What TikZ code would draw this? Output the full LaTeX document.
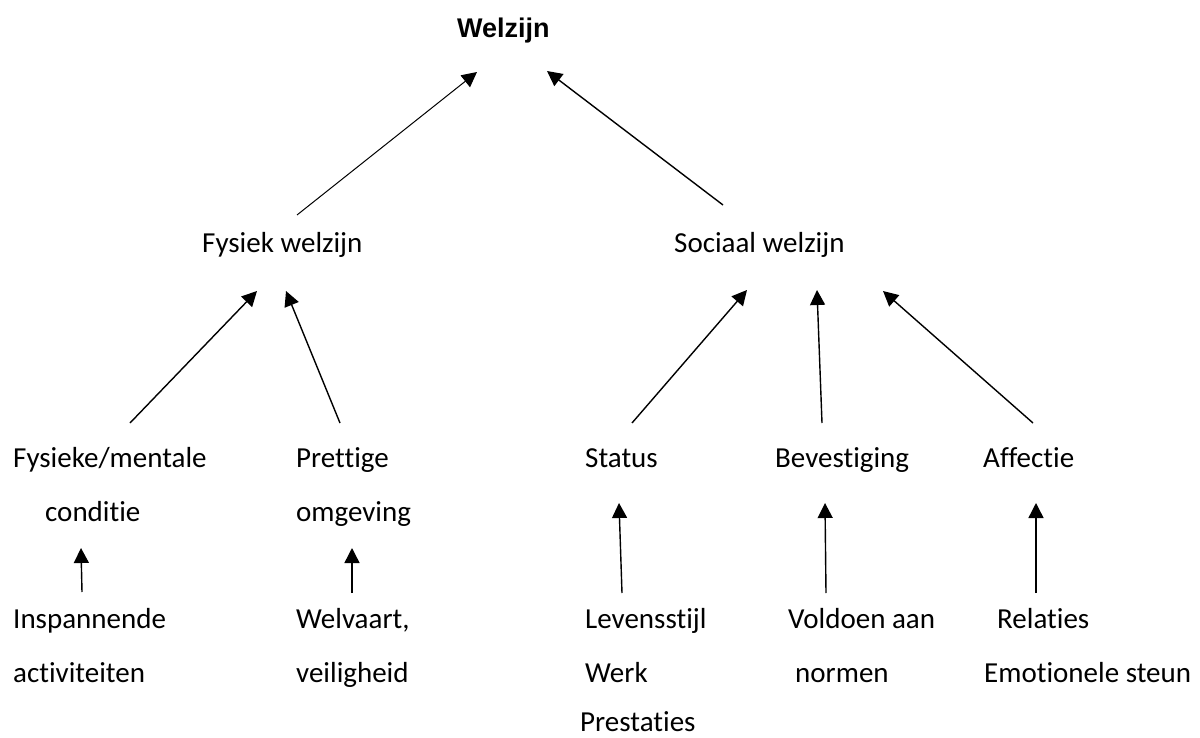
\documentclass[tikz,border=0pt]{standalone}
\usepackage{fontspec}
\setmainfont{Carlito}[Ligatures={NoCommon}]
\newfontfamily\titlefont{Liberation Sans}
\usetikzlibrary{arrows.meta}
\tikzset{
  lbl/.style={anchor=base west, inner sep=0pt, font=\fontsize{29}{35}\selectfont},
  ttl/.style={anchor=base west, inner sep=0pt, font=\titlefont\bfseries\fontsize{27}{32}\selectfont},
  conn/.style={line width=1.4pt, -{Triangle[length=15pt,width=15pt]}},
  thinconn/.style={line width=1pt, -{Triangle[length=15pt,width=15pt]}}
}
\begin{document}
\begin{tikzpicture}[x=1pt,y=-1pt]
\useasboundingbox (0,0) rectangle (1200,738);
% texts
\node[ttl] (wz) at (457,38) {Welzijn};
\node[lbl] (fw) at (202,253) {Fysiek welzijn};
\node[lbl] (sw) at (674,253) {Sociaal welzijn};
\node[lbl] (fm1) at (13,467) {Fysieke/mentale};
\node[lbl] (fm2) at (45,521) {conditie};
\node[lbl] (po1) at (296,467) {Prettige};
\node[lbl] (po2) at (296,521) {omgeving};
\node[lbl] (st) at (585,467) {Status};
\node[lbl] (be) at (775,467) {Bevestiging};
\node[lbl] (af) at (983,467) {Affectie};
\node[lbl] (in1) at (13,628) {Inspannende};
\node[lbl] (in2) at (13,682) {activiteiten};
\node[lbl] (we1) at (296,628) {Welvaart,};
\node[lbl] (we2) at (296,682) {veiligheid};
\node[lbl] (le1) at (585,628) {Levensstijl};
\node[lbl] (le2) at (585,682) {Werk};
\node[lbl] (le3) at (580,731) {Prestaties};
\node[lbl] (vo1) at (788,628) {Voldoen aan};
\node[lbl] (vo2) at (795,682) {normen};
\node[lbl] (re1) at (997,628) {Relaties};
\node[lbl] (re2) at (984,682) {Emotionele steun};
% arrow end points
\coordinate (t1s) at (297,215); \coordinate (t1e) at (477,72);
\coordinate (t2s) at (723,205); \coordinate (t2e) at (547,71);
\coordinate (f1s) at (130,423); \coordinate (f1e) at (257,291);
\coordinate (f2s) at (340,423); \coordinate (f2e) at (286,291);
\coordinate (s1s) at (632,423); \coordinate (s1e) at (747,290);
\coordinate (s2s) at (822,423); \coordinate (s2e) at (817,290);
\coordinate (s3s) at (1033,423); \coordinate (s3e) at (883,291);
\coordinate (b1s) at (82,592); \coordinate (b1e) at (81,548);
\coordinate (b2s) at (352,593); \coordinate (b2e) at (352,548);
\coordinate (b3s) at (622,593); \coordinate (b3e) at (619,503);
\coordinate (b4s) at (826,593); \coordinate (b4e) at (825,503);
\coordinate (b5s) at (1036,593); \coordinate (b5e) at (1036,503);
% connectors
\draw[thinconn] (t1s) -- (t1e);
\draw[conn] (t2s) -- (t2e);
\draw[conn] (f1s) -- (f1e);
\draw[conn] (f2s) -- (f2e);
\draw[conn] (s1s) -- (s1e);
\draw[conn] (s2s) -- (s2e);
\draw[conn] (s3s) -- (s3e);
\draw[conn] (b1s) -- (b1e);
\draw[conn] (b2s) -- (b2e);
\draw[conn] (b3s) -- (b3e);
\draw[conn] (b4s) -- (b4e);
\draw[conn] (b5s) -- (b5e);
\end{tikzpicture}
\end{document}
